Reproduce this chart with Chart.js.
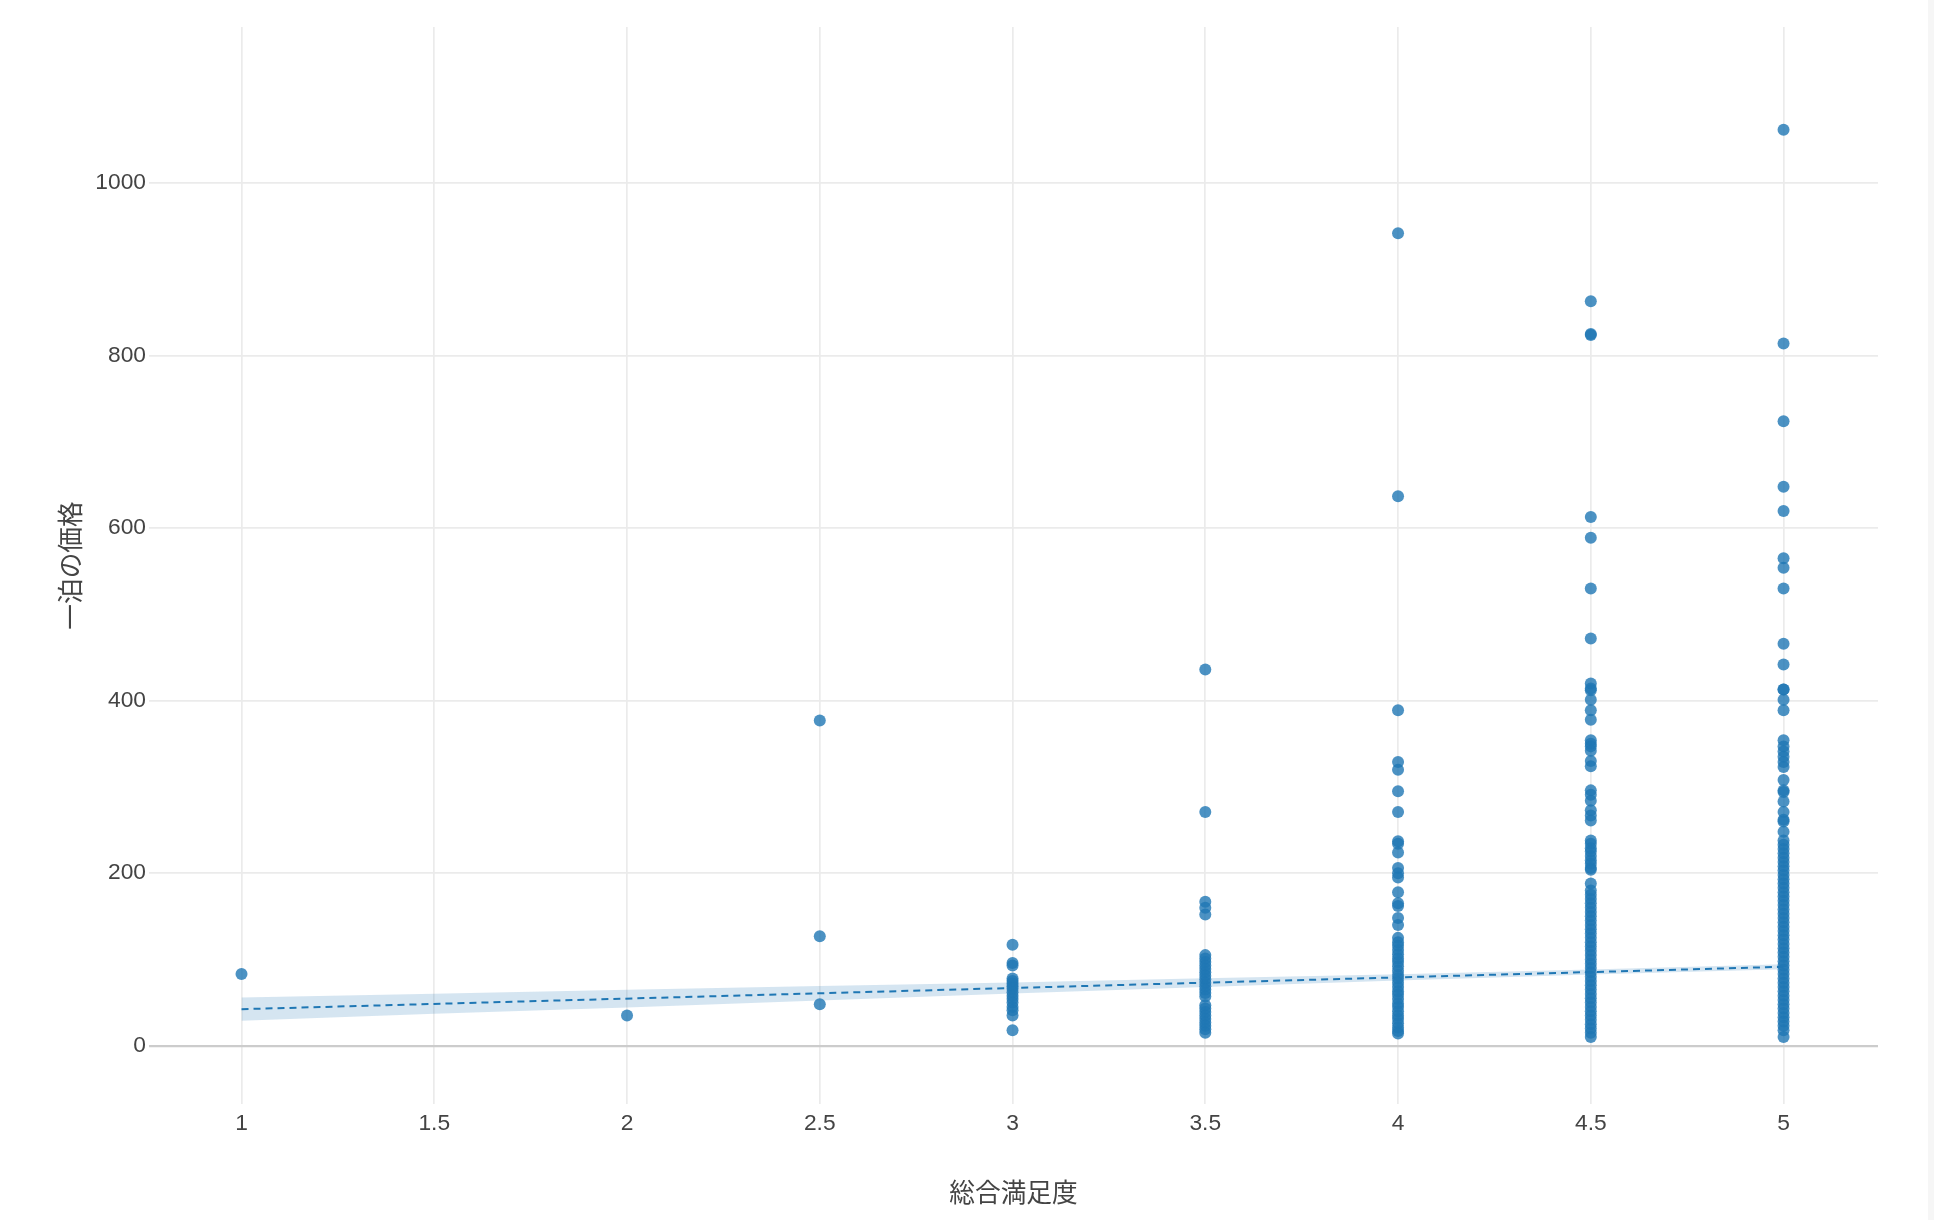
<!DOCTYPE html>
<html>
<head>
<meta charset="utf-8">
<script src="https://cdn.jsdelivr.net/npm/chart.js@4.4.1/dist/chart.umd.min.js"></script>
<style>
  html, body { margin: 0; padding: 0; background: #fff; }
  #wrap { position: relative; width: 1934px; height: 1220px; }
  #strip { position: absolute; top: 0; right: 0; width: 6px; height: 1220px; background: #f6f6f6; }
</style>
</head>
<body>
<div id="wrap"><canvas id="chart"></canvas><div id="strip"></div></div>
<script>
// 総合満足度 -> 一泊の価格 (one array per rating)
const price1 = [83];
const price2 = [35];
const price25 = [377, 127, 48];
const price3 = [117, 96, 93, 78, 75, 72, 69, 66, 62, 58, 54, 50, 45, 41, 35, 18];
const price35 = [436, 271, 167, 160, 152,
    105, 101, 97, 93, 89, 85, 81, 77, 73, 69, 65, 61, 57, 47, 43, 39, 35, 31, 27, 23, 19, 15];
const price4 = [942, 637, 389, 329, 320, 295, 271, 237, 234, 224, 206, 200, 195, 178, 165, 162, 148, 140,
    125, 120, 116, 111, 106, 101, 97, 92, 87, 82, 78, 73, 68, 63, 59, 54, 49, 45, 40, 35, 31, 26, 21, 17, 14];
const price45 = [863, 825, 824, 613, 589, 530, 472, 420, 414, 412, 401, 389, 378,
    354, 350, 347, 342, 330, 324, 296, 291, 284, 273, 267, 261,
    238, 234, 229, 225, 220, 215, 211, 206, 204, 188,
    180, 175, 170, 165, 160, 155, 150, 145, 140, 135, 130, 125, 120, 115, 110, 105, 100, 95, 90,
    85, 80, 75, 70, 65, 60, 55, 50, 45, 40, 35, 30, 25, 20, 15, 10];
const price5 = [1062, 814, 724, 648, 620, 565, 554, 530, 466, 442, 413, 413, 401, 389,
    354, 347, 341, 335, 329, 323, 308, 296, 294, 283, 271, 262, 260, 248,
    238, 233, 228, 223, 218, 213, 208, 203, 198, 193, 188, 183, 178, 173, 168, 163, 158, 153,
    148, 143, 138, 133, 128, 123, 118, 113, 108, 103, 98, 93, 88, 83, 78, 73, 68, 63, 58,
    53, 48, 43, 38, 33, 28, 23, 18, 10];

// regression line and its confidence band
const fitX = [1, 5];
const fitY = [42.3, 91.5];
const bandX = [1, 1.5, 2, 2.5, 3, 3.5, 4, 4.5, 5];
const bandUpper = [55.8, 60.1, 64.8, 69.3, 73.4, 78.1, 82.7, 88.4, 94.5];
const bandLower = [28.8, 36.9, 44.4, 52.3, 60.4, 68.1, 75.7, 82.4, 88.5];

const xTicks = [1, 1.5, 2, 2.5, 3, 3.5, 4, 4.5, 5];
const yTicks = [0, 200, 400, 600, 800, 1000];

const groups = [[1, price1], [2, price2], [2.5, price25], [3, price3],
    [3.5, price35], [4, price4], [4.5, price45], [5, price5]];

let points = [];
groups.forEach(function (g) {
    g[1].forEach(function (p) { points.push({x: g[0], y: p}); });
});

function pairs(xs, ys) {
    return xs.map(function (x, i) { return {x: x, y: ys[i]}; });
}

const tickFont = {family: "'Liberation Sans', Arial, sans-serif", size: 22.8};
const titleFont = {family: "'Noto Sans CJK JP', 'Liberation Sans', sans-serif", size: 25.7};

let chart = new Chart(document.getElementById('chart'), {
    type: 'scatter',
    data: {
        datasets: [
            {
                label: 'points',
                data: points,
                pointRadius: 6,
                pointHoverRadius: 6,
                borderWidth: 0,
                backgroundColor: 'rgba(31,119,180,0.8)'
            },
            {
                label: 'fit',
                data: pairs(fitX, fitY),
                showLine: true,
                pointRadius: 0,
                borderColor: '#1f77b4',
                borderWidth: 2,
                borderDash: [7, 5]
            },
            {
                label: 'upper',
                data: pairs(bandX, bandUpper),
                showLine: true,
                pointRadius: 0,
                borderWidth: 0,
                borderColor: 'rgba(0,0,0,0)',
                backgroundColor: 'rgba(31,119,180,0.19)',
                fill: '+1'
            },
            {
                label: 'lower',
                data: pairs(bandX, bandLower),
                showLine: true,
                pointRadius: 0,
                borderWidth: 0,
                borderColor: 'rgba(0,0,0,0)',
                fill: false
            }
        ]
    },
    options: {
        responsive: true,
        maintainAspectRatio: false,
        animation: false,
        layout: {padding: {top: 27, right: 56, left: 0, bottom: 0}},
        plugins: {
            legend: {display: false},
            tooltip: {enabled: false}
        },
        scales: {
            x: {
                type: 'linear',
                min: 0.76,
                max: 5.245,
                afterBuildTicks: function (s) { s.ticks = xTicks.map(function (v) { return {value: v}; }); },
                afterFit: function (s) { s.height = 116; },
                border: {display: false},
                grid: {color: '#ebebeb', lineWidth: 1.7, drawTicks: false},
                ticks: {
                    color: '#444',
                    font: tickFont,
                    padding: 6,
                    maxRotation: 0,
                    autoSkip: false,
                    callback: function (v) { return String(v); }
                },
                title: {
                    display: true,
                    text: '総合満足度',
                    color: '#444',
                    font: titleFont,
                    padding: {top: 0, bottom: 12}
                }
            },
            y: {
                type: 'linear',
                min: -67.6,
                max: 1181,
                afterBuildTicks: function (s) { s.ticks = yTicks.map(function (v) { return {value: v}; }); },
                afterFit: function (s) { s.width = 149; },
                border: {display: false},
                grid: {
                    drawTicks: false,
                    color: function (c) { return c.tick && c.tick.value === 0 ? '#cccccc' : '#ebebeb'; },
                    lineWidth: function (c) { return c.tick && c.tick.value === 0 ? 2.2 : 1.7; }
                },
                ticks: {
                    color: '#444',
                    font: tickFont,
                    padding: 3,
                    autoSkip: false,
                    callback: function (v) { return String(v); }
                },
                title: {
                    display: true,
                    text: '一泊の価格',
                    color: '#444',
                    font: titleFont,
                    padding: {top: 54.6, bottom: 0}
                }
            }
        }
    }
});
</script>
</body>
</html>
